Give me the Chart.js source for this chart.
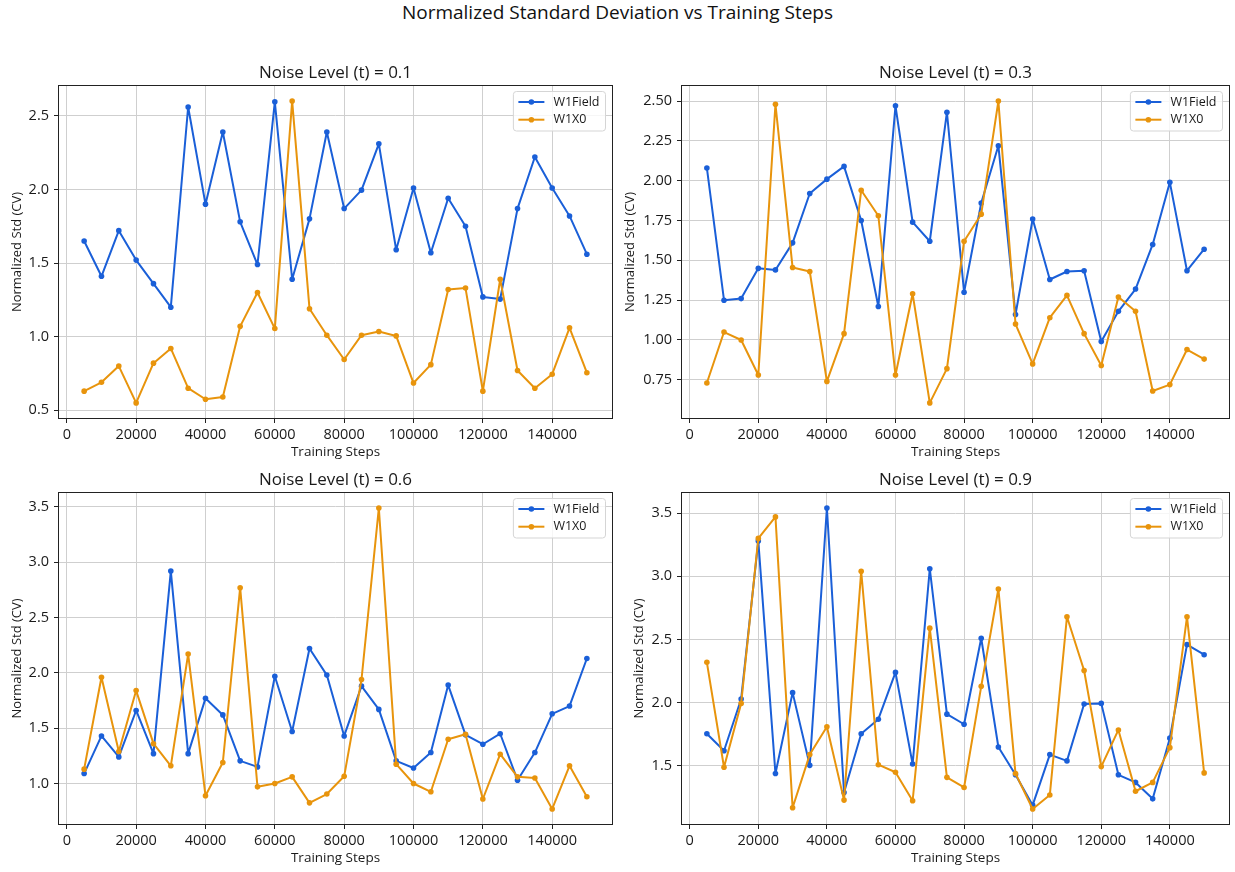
<!DOCTYPE html>
<html>
<head>
<meta charset="utf-8">
<title>Normalized Standard Deviation vs Training Steps</title>
<script src="https://cdn.jsdelivr.net/npm/chart.js@4.4.1/dist/chart.umd.min.js"></script>
<style>
  html, body { margin: 0; padding: 0; background: #fff; }
  body { width: 1235px; height: 872px; position: relative; overflow: hidden; font-family: "Open Sans", sans-serif; }
  #suptitle { position: absolute; left: 0; top: 0; width: 1235px; text-align: center; font-size: 19px; line-height: 25px; color: #111; }
  canvas { position: absolute; }
</style>
</head>
<body>
<div id="suptitle">Normalized Standard Deviation vs Training Steps</div>
<canvas id="p1" width="620" height="436" style="left:0px;top:30px"></canvas>
<canvas id="p2" width="615" height="436" style="left:620px;top:30px"></canvas>
<canvas id="p3" width="620" height="406" style="left:0px;top:466px"></canvas>
<canvas id="p4" width="615" height="406" style="left:620px;top:466px"></canvas>
<script>
// ---- data ----
const steps = [5000, 10000, 15000, 20000, 25000, 30000, 35000, 40000, 45000, 50000,
               55000, 60000, 65000, 70000, 75000, 80000, 85000, 90000, 95000, 100000,
               105000, 110000, 115000, 120000, 125000, 130000, 135000, 140000, 145000, 150000];
const seriesNames = ['W1Field', 'W1X0'];
const noiseLevels = ['0.1', '0.3', '0.6', '0.9'];

const w1fieldT01 = [1.65, 1.41, 1.72, 1.52, 1.36, 1.20, 2.56, 1.90, 2.39, 1.78,
                    1.49, 2.595, 1.39, 1.80, 2.39, 1.87, 1.995, 2.31, 1.59, 2.01,
                    1.57, 1.94, 1.75, 1.27, 1.255, 1.87, 2.22, 2.01, 1.82, 1.56];
const w1x0T01    = [0.63, 0.69, 0.80, 0.55, 0.82, 0.92, 0.65, 0.575, 0.59, 1.07,
                    1.30, 1.055, 2.60, 1.19, 1.01, 0.845, 1.01, 1.035, 1.005, 0.685,
                    0.81, 1.32, 1.33, 0.63, 1.39, 0.77, 0.65, 0.745, 1.06, 0.755];

const w1fieldT03 = [2.08, 1.25, 1.26, 1.45, 1.44, 1.61, 1.92, 2.01, 2.09, 1.75,
                    1.21, 2.47, 1.74, 1.62, 2.43, 1.30, 1.86, 2.22, 1.16, 1.76,
                    1.38, 1.43, 1.435, 0.99, 1.18, 1.32, 1.60, 1.99, 1.435, 1.57];
const w1x0T03    = [0.73, 1.05, 1.00, 0.78, 2.48, 1.455, 1.43, 0.74, 1.04, 1.94,
                    1.78, 0.78, 1.29, 0.605, 0.82, 1.62, 1.79, 2.50, 1.10, 0.85,
                    1.14, 1.28, 1.04, 0.84, 1.27, 1.18, 0.68, 0.72, 0.94, 0.88];

const w1fieldT06 = [1.09, 1.43, 1.24, 1.66, 1.27, 2.92, 1.27, 1.77, 1.62, 1.205,
                    1.15, 1.97, 1.47, 2.22, 1.98, 1.43, 1.88, 1.67, 1.205, 1.14,
                    1.28, 1.89, 1.44, 1.355, 1.45, 1.03, 1.28, 1.63, 1.70, 2.13];
const w1x0T06    = [1.13, 1.96, 1.29, 1.84, 1.36, 1.16, 2.17, 0.89, 1.19, 2.77,
                    0.97, 1.00, 1.06, 0.825, 0.905, 1.065, 1.94, 3.49, 1.175, 1.00,
                    0.925, 1.40, 1.445, 0.86, 1.265, 1.06, 1.05, 0.77, 1.16, 0.88];

const w1fieldT09 = [1.755, 1.62, 2.03, 3.28, 1.44, 2.08, 1.505, 3.54, 1.29, 1.755,
                    1.87, 2.24, 1.515, 3.06, 1.91, 1.83, 2.51, 1.65, 1.43, 1.19,
                    1.59, 1.54, 1.99, 1.995, 1.43, 1.37, 1.24, 1.72, 2.46, 2.38];
const w1x0T09    = [2.32, 1.49, 1.995, 3.30, 3.47, 1.17, 1.59, 1.81, 1.23, 3.04,
                    1.51, 1.45, 1.225, 2.59, 1.41, 1.33, 2.13, 2.90, 1.44, 1.16,
                    1.27, 2.68, 2.255, 1.495, 1.785, 1.30, 1.37, 1.645, 2.68, 1.445];

// ---- tick labels ----
const xTicks = [0, 20000, 40000, 60000, 80000, 100000, 120000, 140000];
const yTicksT01 = [0.5, 1.0, 1.5, 2.0, 2.5];
const yTicksT03 = [0.75, 1.00, 1.25, 1.50, 1.75, 2.00, 2.25, 2.50];
const yTicksT06 = [1.0, 1.5, 2.0, 2.5, 3.0, 3.5];
const yTicksT09 = [1.5, 2.0, 2.5, 3.0, 3.5];
const yTickDecimals = [1, 2, 1, 1];

const xTitle = 'Training Steps';
const yTitle = 'Normalized Std (CV)';

// ---- styling ----
const FONT = '"Open Sans", sans-serif';
const TEXT = '#1a1a1a';
const BLUE = '#1a5fd8';
const ORANGE = '#e8940c';
const GRID = '#cfcfcf';

// axis limits with a 5% margin around the data, as the plotting default does
function padRange(values) {
  const lo = Math.min(...values), hi = Math.max(...values);
  const m = (hi - lo) * 0.05;
  return [lo - m, hi + m];
}

// frame around the plotting area (all four spines)
const framePlugin = {
  id: 'frame',
  afterDatasetsDraw(chart) {
    const {ctx, chartArea: a} = chart;
    ctx.save();
    ctx.strokeStyle = '#222';
    ctx.lineWidth = 1;
    ctx.strokeRect(Math.round(a.left) - 0.5, Math.round(a.top) - 0.5,
                   Math.round(a.right - a.left) + 1, Math.round(a.bottom - a.top) + 1);
    ctx.restore();
  }
};

// panel heading centred over the plotting area
const panelTitlePlugin = {
  id: 'panelTitle',
  afterDraw(chart, args, opts) {
    const {ctx, chartArea: a} = chart;
    ctx.save();
    ctx.font = '17px ' + FONT;
    ctx.fillStyle = TEXT;
    ctx.textAlign = 'center';
    ctx.textBaseline = 'alphabetic';
    ctx.fillText(opts.text, (a.left + a.right) / 2, a.top - 8);
    ctx.restore();
  }
};

// boxed legend in the upper-right corner, line + marker samples
const cornerLegendPlugin = {
  id: 'cornerLegend',
  afterDraw(chart) {
    const {ctx, chartArea: a} = chart;
    const sets = chart.data.datasets;
    ctx.save();
    ctx.font = '12.5px ' + FONT;
    const textW = Math.max(...sets.map(d => ctx.measureText(d.label).width));
    const w = 46 + textW, h = 39.5;
    const x0 = a.right - 6.5 - w, y0 = a.top + 5.5;
    ctx.beginPath();
    ctx.roundRect(x0, y0, w, h, 3);
    ctx.fillStyle = 'rgba(255,255,255,0.8)';
    ctx.fill();
    ctx.strokeStyle = '#d5d5d5';
    ctx.lineWidth = 1;
    ctx.stroke();
    sets.forEach((d, i) => {
      const cy = y0 + 10.5 + i * 17.7;
      ctx.strokeStyle = d.borderColor;
      ctx.lineWidth = 2;
      ctx.beginPath();
      ctx.moveTo(x0 + 5, cy);
      ctx.lineTo(x0 + 31, cy);
      ctx.stroke();
      ctx.fillStyle = d.borderColor;
      ctx.beginPath();
      ctx.arc(x0 + 18, cy, 2.8, 0, Math.PI * 2);
      ctx.fill();
      ctx.fillStyle = TEXT;
      ctx.textAlign = 'left';
      ctx.textBaseline = 'middle';
      ctx.fillText(d.label, x0 + 40, cy);
    });
    ctx.restore();
  }
};

const panelData = [
  {canvas: 'p1', level: noiseLevels[0], field: w1fieldT01, x0: w1x0T01, yTicks: yTicksT01, dec: yTickDecimals[0]},
  {canvas: 'p2', level: noiseLevels[1], field: w1fieldT03, x0: w1x0T03, yTicks: yTicksT03, dec: yTickDecimals[1]},
  {canvas: 'p3', level: noiseLevels[2], field: w1fieldT06, x0: w1x0T06, yTicks: yTicksT06, dec: yTickDecimals[2]},
  {canvas: 'p4', level: noiseLevels[3], field: w1fieldT09, x0: w1x0T09, yTicks: yTicksT09, dec: yTickDecimals[3]}
];

// per-panel box geometry: y-axis width, paddings, y-title offset
const panelLayout = [
  {yAxisW: 59, padTop: 56, padRight: 8, yTitlePad: 9},
  {yAxisW: 62, padTop: 56, padRight: 6, yTitlePad: 2.5},
  {yAxisW: 59, padTop: 27, padRight: 8, yTitlePad: 9},
  {yAxisW: 62, padTop: 27, padRight: 6, yTitlePad: 11}
];

const xRange = padRange(steps);

panelData.forEach((p, k) => {
  const L = panelLayout[k];
  const yRange = padRange(p.field.concat(p.x0));
  const line = (label, vals, color, order) => ({
    label,
    data: steps.map((s, i) => ({x: s, y: vals[i]})),
    borderColor: color,
    backgroundColor: color,
    pointBackgroundColor: color,
    pointBorderColor: color,
    borderWidth: 2,
    borderJoinStyle: 'round',
    borderCapStyle: 'round',
    pointRadius: 2.8,
    pointBorderWidth: 0,
    pointHoverRadius: 2.8,
    tension: 0,
    fill: false,
    order
  });
  new Chart(document.getElementById(p.canvas), {
    type: 'line',
    data: {
      datasets: [
        line(seriesNames[0], p.field, BLUE, 1),
        line(seriesNames[1], p.x0, ORANGE, 0)
      ]
    },
    options: {
      responsive: false,
      animation: false,
      devicePixelRatio: 1,
      events: [],
      layout: {padding: {top: L.padTop, right: L.padRight, left: 0, bottom: 0}},
      plugins: {
        legend: {display: false},
        tooltip: {enabled: false},
        panelTitle: {text: 'Noise Level (t) = ' + p.level}
      },
      scales: {
        x: {
          type: 'linear',
          min: xRange[0],
          max: xRange[1],
          afterFit: s => { s.height = 48; },
          afterBuildTicks: s => { s.ticks = xTicks.map(v => ({value: v})); },
          ticks: {
            font: {family: FONT, size: 14.5},
            color: TEXT,
            padding: 3,
            maxRotation: 0,
            autoSkip: false,
            callback: v => String(v)
          },
          grid: {color: GRID, lineWidth: 1, drawTicks: true, tickLength: 5, tickColor: '#222', tickWidth: 1},
          border: {display: false},
          title: {display: true, text: xTitle, color: TEXT, font: {family: FONT, size: 13.5}, padding: {top: 0, bottom: 6}}
        },
        y: {
          type: 'linear',
          min: yRange[0],
          max: yRange[1],
          afterFit: s => { s.width = L.yAxisW; },
          afterBuildTicks: s => { s.ticks = p.yTicks.map(v => ({value: v})); },
          ticks: {
            font: {family: FONT, size: 14.5},
            color: TEXT,
            padding: 5,
            autoSkip: false,
            callback: v => Number(v).toFixed(p.dec)
          },
          grid: {color: GRID, lineWidth: 1, drawTicks: true, tickLength: 5, tickColor: '#222', tickWidth: 1},
          border: {display: false},
          title: {display: true, text: yTitle, color: TEXT, font: {family: FONT, size: 13}, padding: {top: L.yTitlePad, bottom: 0}}
        }
      }
    },
    plugins: [framePlugin, panelTitlePlugin, cornerLegendPlugin]
  });
});
</script>
</body>
</html>
